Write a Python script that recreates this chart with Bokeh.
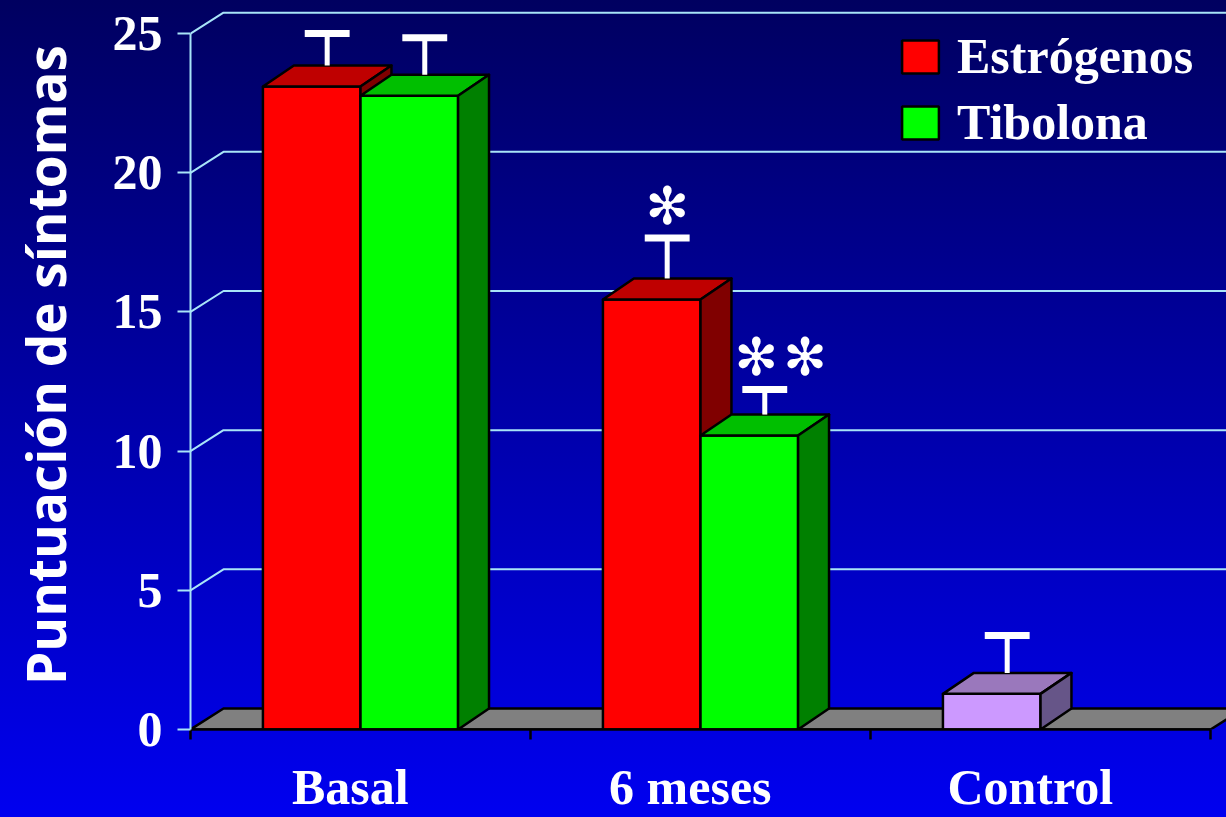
from bokeh.plotting import figure
from bokeh.models import Range1d, LinearAxis, FixedTicker, Legend, LegendItem
from bokeh.core.properties import value
from bokeh.embed import file_html
from bokeh.resources import INLINE

# ---------------- data ----------------
categories = ["Basal", "6 meses", "Control"]
estrogenos = [23.10, 15.45]          # Basal, 6 meses
tibolona = [22.77, 10.56]            # Basal, 6 meses
control = [1.28]                     # Control
estrogenos_err = [1.15, 1.45]
tibolona_err = [1.33, 0.90]
control_err = [1.34]
y_ticks = [0, 5, 10, 15, 20, 25]
signif_estrogenos = ["", "✻"]
signif_tibolona = ["", "✻\u200a✻"]

# ---------------- geometry (data units) ----------------
BAR_W = 0.287
BAR_DX = 0.091
DEPTH_DY = 0.754
FLOOR_DX = 0.097
X_MAX = 3.047
Y_MAX = 26.19
CAP_W = 0.066
SIG_OFF = 1.17
LABEL_SHIFT = -0.03

p = figure(width=1226, height=817, x_range=Range1d(0, X_MAX), y_range=Range1d(0, Y_MAX),
           output_backend="svg", toolbar_location=None, x_axis_location=None, y_axis_location=None,
           min_border_left=190, min_border_right=0, min_border_top=0, min_border_bottom=88)
p.xgrid.visible = False
p.ygrid.visible = False
p.outline_line_color = None
p.background_fill_alpha = 0
p.border_fill_alpha = 0
p.styles = {"background": "linear-gradient(180deg, #000060 0%, #0000f0 100%)"}

GRID_COL = "#a8e4f8"

# ---------------- perspective gridlines ----------------
gx, gy = [], []
for t in y_ticks[1:]:
    gx.append([0, FLOOR_DX, X_MAX + 1])
    gy.append([t, t + DEPTH_DY, t + DEPTH_DY])
p.multi_line(gx, gy, line_color=GRID_COL, line_width=2)

# ---------------- floor ----------------
ncat = len(categories)
p.patch([0, ncat, ncat + FLOOR_DX, FLOOR_DX], [0, 0, DEPTH_DY, DEPTH_DY],
        fill_color="#808080", line_color="black", line_width=2.5)

# ---------------- 3D bars ----------------
def bars(x0s, vals, front, top, side):
    x1s = [x + BAR_W for x in x0s]
    r = p.quad(left=x0s, right=x1s, bottom=[0] * len(vals), top=vals,
               fill_color=front, line_color="black", line_width=2.5)
    tx = [[a, b, b + BAR_DX, a + BAR_DX] for a, b in zip(x0s, x1s)]
    ty = [[v, v, v + DEPTH_DY, v + DEPTH_DY] for v in vals]
    p.patches(tx, ty, fill_color=top, line_color="black", line_width=2.5, line_join="round")
    sx = [[b, b + BAR_DX, b + BAR_DX, b] for b in x1s]
    sy = [[0, DEPTH_DY, v + DEPTH_DY, v] for v in vals]
    p.patches(sx, sy, fill_color=side, line_color="black", line_width=2.5, line_join="round")
    return r

left_slot = [i + 0.5 - BAR_W for i in range(ncat)]
right_slot = [i + 0.5 for i in range(ncat)]

r_est = bars(left_slot[:2], estrogenos, "#ff0000", "#bf0000", "#800000")
r_tib = bars(right_slot[:2], tibolona, "#00ff00", "#00bf00", "#008000")
r_ctl = bars(left_slot[2:3], control, "#cc99ff", "#9a78bc", "#665588")

# ---------------- error bars & significance ----------------
ex, ev, ee, sx_, sy_, st = [], [], [], [], [], []
for x0s, vals, errs, sig, shift in [(left_slot[:2], estrogenos, estrogenos_err, signif_estrogenos, 0.0),
                                    (right_slot[:2], tibolona, tibolona_err, signif_tibolona, 0.047),
                                    (left_slot[2:3], control, control_err, [""], 0.0)]:
    for x0, v, e, s in zip(x0s, vals, errs, sig):
        xm = x0 + BAR_W / 2 + BAR_DX / 2
        ex.append(xm); ev.append(v + DEPTH_DY); ee.append(v + e + DEPTH_DY)
        if s:
            sx_.append(xm + shift); sy_.append(v + e + DEPTH_DY + SIG_OFF); st.append(s)

p.segment(x0=ex, y0=ev, x1=ex, y1=ee, line_color="white", line_width=5)
p.segment(x0=[x - CAP_W for x in ex], y0=ee, x1=[x + CAP_W for x in ex], y1=ee,
          line_color="white", line_width=7)
p.text(x=sx_, y=sy_, text=st, text_font=value("DejaVu Sans"), text_font_size="52px",
       text_color="white", text_align="center", text_baseline="middle")

# ---------------- axes ----------------
yax = LinearAxis(ticker=FixedTicker(ticks=y_ticks), bounds=(0, 25),
                 axis_line_color=GRID_COL, axis_line_width=2,
                 major_tick_line_color=GRID_COL, major_tick_line_width=2,
                 major_tick_out=13, major_tick_in=0, minor_tick_line_color=None,
                 major_label_standoff=15,
                 major_label_text_font="Liberation Serif", major_label_text_font_style="bold",
                 major_label_text_font_size="50px", major_label_text_color="white",
                 axis_label="Puntuación de síntomas", axis_label_standoff=28,
                 axis_label_text_font="Open Sans", axis_label_text_font_style="bold",
                 axis_label_text_font_size="53px", axis_label_text_color="white")
p.add_layout(yax, "left")

label_pos = [i + 0.5 + LABEL_SHIFT for i in range(ncat)]
xax = LinearAxis(ticker=FixedTicker(ticks=label_pos, minor_ticks=list(range(ncat + 1))),
                 bounds=(0, ncat), axis_line_color="black", axis_line_width=2.5,
                 major_tick_line_color=None, major_tick_out=0, major_tick_in=0,
                 minor_tick_line_color="black", minor_tick_line_width=2.5,
                 minor_tick_out=10, minor_tick_in=0,
                 major_label_overrides={pos: c for pos, c in zip(label_pos, categories)},
                 major_label_standoff=19,
                 major_label_text_font="Liberation Serif", major_label_text_font_style="bold",
                 major_label_text_font_size="50px", major_label_text_color="white")
p.add_layout(xax, "below")

# ---------------- legend ----------------
legend = Legend(items=[LegendItem(label="Estrógenos", renderers=[r_est]),
                       LegendItem(label="Tibolona", renderers=[r_tib])],
                location=(707, 578), glyph_width=46, glyph_height=41,
                label_text_font="Liberation Serif", label_text_font_style="bold",
                label_text_font_size="50px", label_text_color="white",
                background_fill_alpha=0, border_line_alpha=0, padding=0, margin=0,
                spacing=8, label_standoff=14)
p.add_layout(legend)

open("out.html", "w").write(file_html(p, INLINE))
